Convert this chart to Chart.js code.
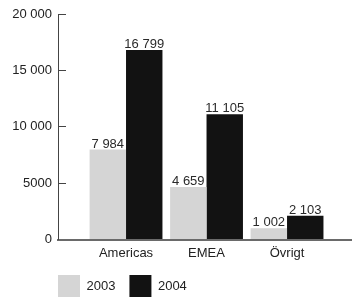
<!DOCTYPE html>
<html>
<head>
<meta charset="utf-8">
<script src="https://cdn.jsdelivr.net/npm/chart.js@4"></script>
<style>
  html, body { margin: 0; padding: 0; background: #fff; }
  #wrap { width: 352px; height: 300px; }
</style>
</head>
<body>
<div id="wrap"><canvas id="salesChart"></canvas></div>
<script>
const regions = ['Americas', 'EMEA', 'Övrigt'];
const years = ['2003', '2004'];
const sales2003 = [7984, 4659, 1002];
const sales2004 = [16799, 11105, 2103];
const yTicks = [0, 5000, 10000, 15000, 20000];

const FONT = 'Liberation Sans';

// swedish style thousands: "16 799", but the axis writes "5000"
function fmtValue(v) {
  return String(v).replace(/\B(?=(\d{3})+(?!\d))/g, ' ');
}
function fmtAxis(v) {
  return v >= 10000 ? fmtValue(v) : String(v);
}

const toPoints = vals => vals.map((v, i) => ({ x: i, y: v }));

const valueLabels = {
  id: 'valueLabels',
  afterDatasetsDraw(chart) {
    const c = chart.ctx;
    c.save();
    c.font = '13px "' + FONT + '"';
    c.fillStyle = '#2a2a2a';
    c.textAlign = 'center';
    c.textBaseline = 'bottom';
    chart.data.datasets.forEach((ds, di) => {
      chart.getDatasetMeta(di).data.forEach((bar, i) => {
        c.fillText(fmtValue(ds.data[i].y), bar.x, bar.y + 1);
      });
    });
    c.restore();
  }
};

// legend starts under the y axis line
const legendShift = {
  id: 'legendShift',
  afterLayout(chart) {
    chart.legend.left = chart.chartArea.left - chart.legend.options.labels.padding;
  }
};

const ctx = document.getElementById('salesChart').getContext('2d');

new Chart(ctx, {
  type: 'bar',
  data: {
    datasets: [
      {
        label: years[0],
        data: toPoints(sales2003),
        backgroundColor: '#d5d5d5',
        categoryPercentage: 0.905,
        barPercentage: 1,
      },
      {
        label: years[1],
        data: toPoints(sales2004),
        backgroundColor: '#121212',
        categoryPercentage: 0.905,
        barPercentage: 1,
      },
    ],
  },
  plugins: [valueLabels, legendShift],
  options: {
    responsive: true,
    maintainAspectRatio: false,
    animation: false,
    layout: {
      padding: { left: 12, top: 14, right: 0, bottom: -7 },
    },
    plugins: {
      tooltip: { enabled: false },
      legend: {
        display: true,
        position: 'bottom',
        align: 'start',
        labels: {
          boxWidth: 22,
          boxHeight: 22,
          padding: 14,
          color: '#222',
          font: { family: FONT, size: 13 },
        },
      },
    },
    scales: {
      x: {
        type: 'linear',
        offset: false,
        min: -0.845,
        max: 2.807,
        grid: { display: false, drawTicks: false, offset: false },
        border: { display: true, color: '#6a6a6a', width: 2 },
        afterBuildTicks(scale) {
          scale.ticks = regions.map((r, i) => ({ value: i }));
        },
        afterFit(scale) {
          scale.height = 21.5;
        },
        ticks: {
          padding: 6,
          color: '#222',
          font: { family: FONT, size: 13 },
          callback: v => regions[v],
        },
      },
      y: {
        min: 0,
        max: 20000,
        afterBuildTicks(scale) {
          scale.ticks = yTicks.map(v => ({ value: v }));
        },
        afterFit(scale) {
          scale.width = 46;
          // tick padding pushes labels sideways only, not the plot top
          scale.paddingTop = 0;
          scale.paddingBottom = 0;
        },
        grid: {
          drawOnChartArea: false,
          drawTicks: true,
          tickLength: -8,
          color: '#444',
        },
        border: { display: true, color: '#444', width: 1 },
        ticks: {
          padding: 14,
          color: '#222',
          font: { family: FONT, size: 13 },
          callback: v => fmtAxis(v),
        },
      },
    },
  },
});
</script>
</body>
</html>
